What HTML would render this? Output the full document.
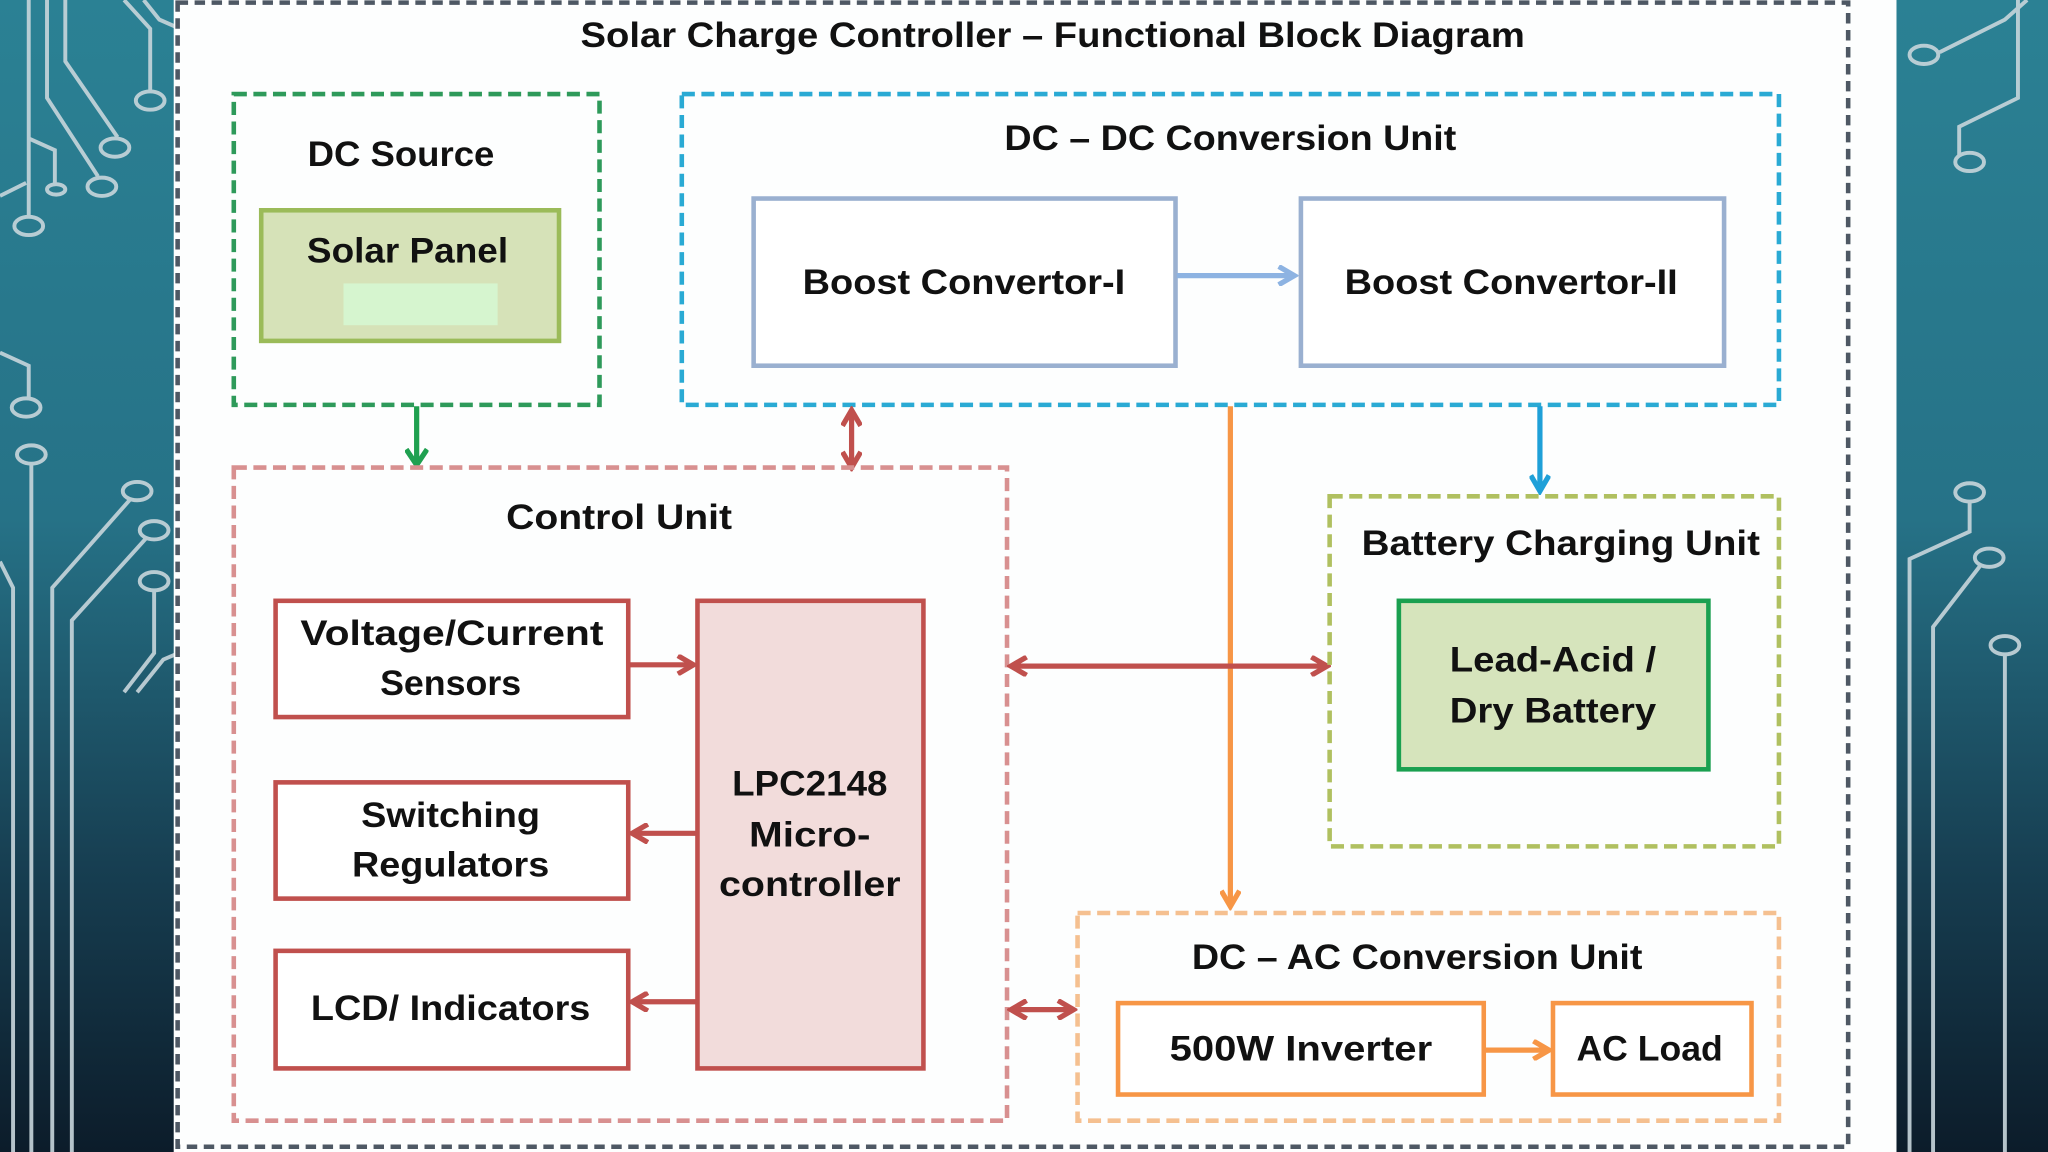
<!DOCTYPE html>
<html><head><meta charset="utf-8"><style>
html,body{margin:0;padding:0;width:2048px;height:1152px;overflow:hidden;background:#1a4a5c}
svg{display:block}
text{font-family:"Liberation Sans",sans-serif;font-weight:bold;fill:#111;text-anchor:middle;font-size:27px}
</style></head><body>
<svg width="2048" height="1152" viewBox="0 0 1568 882" xmlns="http://www.w3.org/2000/svg">
<defs>
<linearGradient id="bg" x1="0" y1="0" x2="0" y2="1">
<stop offset="0" stop-color="#2b8194"/><stop offset="0.45" stop-color="#267287"/><stop offset="0.75" stop-color="#173f52"/><stop offset="1" stop-color="#0c1c2a"/></linearGradient>
<marker id="ag" markerWidth="16" markerHeight="18" refX="12" refY="9" orient="auto" markerUnits="userSpaceOnUse"><path d="M1,1 L13,9 L1,17" fill="none" stroke="#1fa050" stroke-width="4"/></marker>
<marker id="ar" markerWidth="16" markerHeight="16" refX="12" refY="8" orient="auto-start-reverse" markerUnits="userSpaceOnUse"><path d="M1,1 L13,8 L1,15" fill="none" stroke="#c0504d" stroke-width="4"/></marker>
<marker id="ao" markerWidth="16" markerHeight="16" refX="12" refY="8" orient="auto" markerUnits="userSpaceOnUse"><path d="M1,1 L13,8 L1,15" fill="none" stroke="#f79646" stroke-width="4"/></marker>
<marker id="ab" markerWidth="16" markerHeight="16" refX="12" refY="8" orient="auto" markerUnits="userSpaceOnUse"><path d="M1,1 L13,8 L1,15" fill="none" stroke="#1fa0d8" stroke-width="4"/></marker>
<marker id="al" markerWidth="16" markerHeight="16" refX="12" refY="8" orient="auto" markerUnits="userSpaceOnUse"><path d="M1,1 L13,8 L1,15" fill="none" stroke="#8db3e2" stroke-width="4"/></marker>
</defs>
<rect width="1568" height="882" fill="url(#bg)"/>
<g fill="none" stroke="#c8d6dc" stroke-width="3" opacity="0.9">
<path d="M22,0 V165"/><ellipse cx="22" cy="173" rx="11" ry="7"/>
<path d="M36,0 V75 L75,135"/><ellipse cx="78" cy="143" rx="11" ry="7"/>
<path d="M50,0 V47 L90,105"/><ellipse cx="88" cy="113" rx="11" ry="7"/>
<path d="M95,0 L115,22 V70"/><ellipse cx="115" cy="77" rx="11" ry="7"/>
<path d="M110,0 L122,15 L172,37"/>
<path d="M22,106 L42,115 V140"/><ellipse cx="43" cy="145" rx="7" ry="4"/>
<path d="M0,150 L20,140"/>
<path d="M0,270 L22,280 V305"/><ellipse cx="20" cy="312" rx="11" ry="7"/>
<ellipse cx="24" cy="348" rx="11" ry="7"/><path d="M24,355 V882"/>
<path d="M100,382 L40,450 V882"/><ellipse cx="105" cy="376" rx="11" ry="7"/>
<path d="M112,412 L55,475 V882"/><ellipse cx="118" cy="406" rx="11" ry="7"/>
<path d="M118,452 V500 L95,530"/><ellipse cx="118" cy="445" rx="11" ry="7"/>
<path d="M0,430 L10,450 V882"/>
<path d="M172,485 L125,505 L105,530"/>
</g>
<g fill="none" stroke="#c8d6dc" stroke-width="3" opacity="0.9" transform="translate(1330,0)">
<path d="M222,0 L205,15 L155,40"/><ellipse cx="143" cy="42" rx="11" ry="7"/>
<path d="M215,0 V75 L170,97 V120"/><ellipse cx="178" cy="124" rx="11" ry="7"/>
<ellipse cx="178" cy="377" rx="11" ry="7"/><path d="M178,384 V407 L132,428 V882"/>
<ellipse cx="193" cy="427" rx="11" ry="7"/><path d="M187,432 L150,480 V882"/>
<ellipse cx="205" cy="494" rx="11" ry="7"/><path d="M205,501 V882"/>
</g>
<rect x="133" y="0" width="1319" height="882" fill="#fdfefe"/>
<rect x="136" y="2" width="1279" height="876" fill="none" stroke="#4e5864" stroke-width="3.5" stroke-dasharray="8,5"/>
<text x="806" y="36" font-size="27" textLength="723" lengthAdjust="spacingAndGlyphs">Solar Charge Controller – Functional Block Diagram</text>

<rect x="179" y="72" width="280" height="238" fill="none" stroke="#2e9a5a" stroke-width="3.5" stroke-dasharray="10,5"/>
<text x="307" y="127" textLength="143" lengthAdjust="spacingAndGlyphs">DC Source</text>
<rect x="200" y="161" width="228" height="100" fill="#d6e2b8" stroke="#9bbb59" stroke-width="3.5"/>
<rect x="263" y="217" width="118" height="32" fill="#d6f5cf"/>
<text x="312" y="201" textLength="154" lengthAdjust="spacingAndGlyphs">Solar Panel</text>

<rect x="522" y="72" width="840" height="238" fill="none" stroke="#2aaad4" stroke-width="3.5" stroke-dasharray="10,5"/>
<text x="942" y="115" textLength="346" lengthAdjust="spacingAndGlyphs">DC – DC Conversion Unit</text>
<rect x="577" y="152" width="323" height="128" fill="#fff" stroke="#9ab0d0" stroke-width="3.5"/>
<text x="738" y="225" textLength="247" lengthAdjust="spacingAndGlyphs">Boost Convertor-I</text>
<rect x="996" y="152" width="324" height="128" fill="#fff" stroke="#9ab0d0" stroke-width="3.5"/>
<text x="1157" y="225" textLength="255" lengthAdjust="spacingAndGlyphs">Boost Convertor-II</text>
<line x1="901" y1="211" x2="990" y2="211" stroke="#8db3e2" stroke-width="4" marker-end="url(#al)"/>

<line x1="319" y1="311" x2="319" y2="355" stroke="#1fa050" stroke-width="4" marker-end="url(#ag)"/>
<line x1="652" y1="315" x2="652" y2="357" stroke="#c0504d" stroke-width="4" marker-start="url(#ar)" marker-end="url(#ar)"/>
<line x1="942" y1="311" x2="942" y2="693" stroke="#f79646" stroke-width="4" marker-end="url(#ao)"/>
<line x1="1179" y1="311" x2="1179" y2="375" stroke="#1fa0d8" stroke-width="4" marker-end="url(#ab)"/>

<rect x="179" y="358" width="592" height="500" fill="none" stroke="#d89090" stroke-width="3.5" stroke-dasharray="10,5"/>
<text x="474" y="405" textLength="173" lengthAdjust="spacingAndGlyphs">Control Unit</text>
<g fill="#fff" stroke="#c0504d" stroke-width="3.5">
<rect x="211" y="460" width="270" height="89"/>
<rect x="211" y="599" width="270" height="89"/>
<rect x="211" y="728" width="270" height="90"/>
<rect x="534" y="460" width="173" height="358" fill="#f2dcdb"/>
</g>
<text x="346" y="494" textLength="232" lengthAdjust="spacingAndGlyphs">Voltage/Current</text>
<text x="345" y="532" textLength="108" lengthAdjust="spacingAndGlyphs">Sensors</text>
<text x="345" y="633" textLength="137" lengthAdjust="spacingAndGlyphs">Switching</text>
<text x="345" y="671" textLength="151" lengthAdjust="spacingAndGlyphs">Regulators</text>
<text x="345" y="781" textLength="214" lengthAdjust="spacingAndGlyphs">LCD/ Indicators</text>
<text x="620" y="609" textLength="119" lengthAdjust="spacingAndGlyphs">LPC2148</text>
<text x="620" y="648" textLength="93" lengthAdjust="spacingAndGlyphs">Micro-</text>
<text x="620" y="686" textLength="139" lengthAdjust="spacingAndGlyphs">controller</text>
<g stroke="#c0504d" stroke-width="4">
<line x1="482" y1="509" x2="530" y2="509" marker-end="url(#ar)"/>
<line x1="533" y1="638" x2="485" y2="638" marker-end="url(#ar)"/>
<line x1="533" y1="767" x2="485" y2="767" marker-end="url(#ar)"/>
<line x1="775" y1="510" x2="1015" y2="510" marker-start="url(#ar)" marker-end="url(#ar)"/>
<line x1="775" y1="773" x2="821" y2="773" marker-start="url(#ar)" marker-end="url(#ar)"/>
</g>

<rect x="1018" y="380" width="344" height="268" fill="none" stroke="#b0c060" stroke-width="3.5" stroke-dasharray="10,5"/>
<text x="1195" y="425" textLength="305" lengthAdjust="spacingAndGlyphs">Battery Charging Unit</text>
<rect x="1071" y="460" width="237" height="129" fill="#d6e4bc" stroke="#1aa050" stroke-width="3.5"/>
<text x="1189" y="514" textLength="158" lengthAdjust="spacingAndGlyphs">Lead-Acid /</text>
<text x="1189" y="553" textLength="158" lengthAdjust="spacingAndGlyphs">Dry Battery</text>

<rect x="825" y="699" width="537" height="159" fill="none" stroke="#f5c090" stroke-width="3.5" stroke-dasharray="10,5"/>
<text x="1085" y="742" textLength="345" lengthAdjust="spacingAndGlyphs">DC – AC Conversion Unit</text>
<rect x="856" y="768" width="280" height="70" fill="#fff" stroke="#f79646" stroke-width="3.5"/>
<text x="996" y="812" textLength="201" lengthAdjust="spacingAndGlyphs">500W Inverter</text>
<rect x="1189" y="768" width="152" height="70" fill="#fff" stroke="#f79646" stroke-width="3.5"/>
<text x="1263" y="812" textLength="112" lengthAdjust="spacingAndGlyphs">AC Load</text>
<line x1="1137" y1="804" x2="1185" y2="804" stroke="#f79646" stroke-width="4" marker-end="url(#ao)"/>
</svg>
</body></html>
